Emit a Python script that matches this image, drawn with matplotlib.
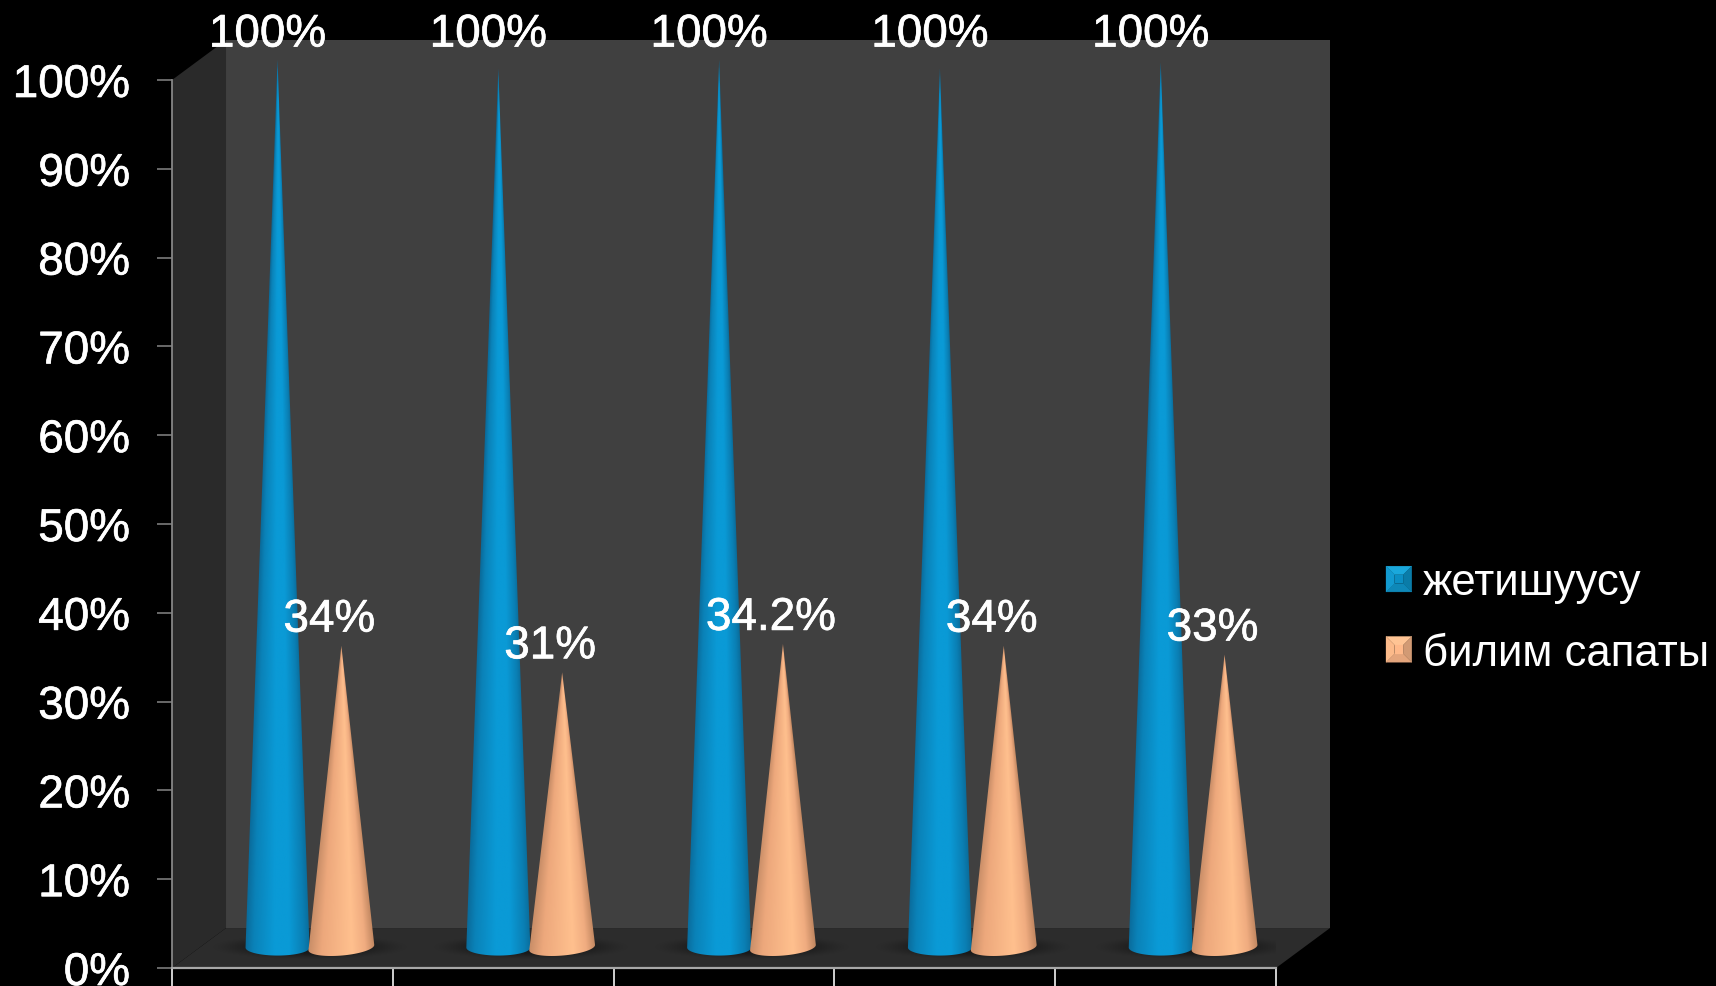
import numpy as np
import matplotlib
matplotlib.use("Agg")
import matplotlib.pyplot as plt
import matplotlib.patheffects as pe
from matplotlib.legend_handler import HandlerBase
from matplotlib.patches import Patch, Polygon

plt.rcParams['font.family'] = ['Liberation Sans', 'DejaVu Sans']

#================
# Data
#================
series_names = ['жетишуусу', 'билим сапаты']
blue_values = [100, 99, 100, 99, 99.7]
orange_values = [34, 31, 34.2, 34, 33]
blue_labels = ['100%', '100%', '100%', '100%', '100%']
orange_labels = ['34%', '31%', '34.2%', '34%', '33%']
y_ticks = [0, 10, 20, 30, 40, 50, 60, 70, 80, 90, 100]
y_tick_labels = ['0%', '10%', '20%', '30%', '40%', '50%', '60%', '70%', '80%', '90%', '100%']

#================
# Styles
#================
W, H = 1716, 987
FONT = 33
PT = 0.72  # px to pt at dpi 100
DX, DY = 0.2446, 4.5  # depth of the box, data units
BASE_Y = 2.3  # centre of cone bases above the front edge
ELL_B = 0.9
BOLD = [pe.withStroke(linewidth=0.5, foreground='white')]
BLUE_STOPS = ([-1, -0.75, -0.1, 0.35, 0.8, 1],
              ['#0a6c9c', '#0a82b8', '#0a9ad6', '#0a9ad6', '#0a7fb4', '#0a6c9a'])
ORANGE_STOPS = ([-1, -0.6, 0.3, 0.7, 1],
                ['#c98e68', '#eda87c', '#ffc08e', '#f0ac80', '#c08660'])


def rgb_stops(stops):
    pos, cols = stops
    return pos, np.array([matplotlib.colors.to_rgb(c) for c in cols])


def draw_cone(ax, xc, height, half_w, stops, tilt):
    # horizontal shading that narrows with the cone
    pos, cols = rgb_stops(stops)
    xs = np.linspace(xc - half_w * 1.02, xc + half_w * 1.02, 140)
    ys = np.linspace(BASE_Y - 2 * ELL_B, BASE_Y + height, 1000)
    gx, gy = np.meshgrid(xs, ys)
    frac = np.clip(1 - (gy - BASE_Y) / height, 0.002, None)
    u = np.clip((gx - xc) / (half_w * frac), -1, 1)
    img = np.dstack([np.interp(u, pos, cols[:, i]) for i in range(3)])
    t = np.linspace(np.pi, 2 * np.pi, 60)
    ex = xc + half_w * np.cos(t)
    ey = BASE_Y + ELL_B * np.sin(t) + tilt * np.cos(t)
    pts = list(zip(ex, ey)) + [(xc, BASE_Y + height)]
    clip = Polygon(pts, closed=True, transform=ax.transData, fc='none', ec='none')
    im = ax.imshow(img, extent=(xs[0], xs[-1], ys[0], ys[-1]), origin='lower',
                   aspect='auto', zorder=4, interpolation='bilinear')
    im.set_clip_path(clip)
    im.set_clip_box(ax.figure.bbox)


def draw_shadow(ax, i):
    xs = np.linspace(i + 0.15, i + 1.1, 160)
    ys = np.linspace(0.4, 4.2, 60)
    gx, gy = np.meshgrid(xs, ys)
    r = ((gx - (i + 0.625)) / 0.4) ** 2 + ((gy - 2.3) / 1.25) ** 2
    img = np.zeros(gx.shape + (4,))
    img[..., :3] = 0.05
    img[..., 3] = 0.6 * np.clip(1.25 - r, 0, 1) ** 1.5
    ax.imshow(img, extent=(xs[0], xs[-1], ys[0], ys[-1]), origin='lower',
              aspect='auto', zorder=3, interpolation='bilinear')


class BevelHandler(HandlerBase):
    # square swatch with a pyramid look
    def create_artists(self, legend, orig, xd, yd, width, height, fontsize, trans):
        light, top, right, bottom, left = orig.bevel
        s = width
        d = s / 3
        x0, y0 = -xd, -yd + (height - s) / 2
        x1, y1 = x0 + s, y0 + s
        a0, b0, a1, b1 = x0 + d, y0 + d, x1 - d, y1 - d
        faces = [([(x0, y1), (x1, y1), (a1, b1), (a0, b1)], top),
                 ([(x1, y1), (x1, y0), (a1, b0), (a1, b1)], right),
                 ([(x0, y0), (x1, y0), (a1, b0), (a0, b0)], bottom),
                 ([(x0, y0), (x0, y1), (a0, b1), (a0, b0)], left),
                 ([(a0, b0), (a1, b0), (a1, b1), (a0, b1)], light)]
        return [Polygon(p, closed=True, fc=c, ec=c, lw=0.2, transform=trans) for p, c in faces]


#================
# Plot setup
#================
fig = plt.figure(figsize=(W / 100, H / 100), dpi=100, facecolor='black')
ax = fig.add_axes([172 / W, (H - 969) / H, (1276 - 172) / W, (969 - 81) / H])
ax.patch.set_visible(False)

# box walls
ax.add_patch(Polygon([(DX, DY), (5 + DX, DY), (5 + DX, 100 + DY), (DX, 100 + DY)],
                     fc='#404040', ec='none', zorder=1, clip_on=False))
ax.add_patch(Polygon([(0, 0), (DX, DY), (DX, 100 + DY), (0, 100)],
                     fc='#2a2a2a', ec='none', zorder=1, clip_on=False))
ax.add_patch(Polygon([(0, 0), (5, 0), (5 + DX, DY), (DX, DY)],
                     fc='#2c2c2c', ec='none', zorder=2, clip_on=False))

# cones and labels
for i in range(5):
    draw_shadow(ax, i)
    xb = i + 0.478
    xo = i + 0.767
    draw_cone(ax, xb, blue_values[i], 0.145, BLUE_STOPS, 0.0)
    draw_cone(ax, xo, orange_values[i], 0.149, ORANGE_STOPS, 0.3)
    ax.annotate(blue_labels[i], (xb, BASE_Y + 100), xytext=(-10 * PT, 25 * PT),
                textcoords='offset points', ha='center', va='center', color='white',
                fontsize=FONT, zorder=6, annotation_clip=False, path_effects=BOLD)
    ax.annotate(orange_labels[i], (xo, BASE_Y + orange_values[i]), xytext=(-12 * PT, 26 * PT),
                textcoords='offset points', ha='center', va='center', color='white',
                fontsize=FONT, zorder=6, annotation_clip=False, path_effects=BOLD)

# axes
ax.set_xlim(0, 5)
ax.set_ylim(0, 100)
ax.set_xticks(range(6))
ax.set_xticklabels([])
ax.set_yticks(y_ticks)
ax.set_yticklabels(y_tick_labels, fontsize=FONT, color='white', path_effects=BOLD)
ax.tick_params(axis='y', length=15 * PT, width=1.1, color='#868686', pad=27 * PT)
ax.tick_params(axis='x', length=26 * PT, width=1.4, color='#d0d0d0')
ax.spines['top'].set_visible(False)
ax.spines['right'].set_visible(False)
ax.spines['left'].set_color('#868686')
ax.spines['left'].set_linewidth(1.3)
ax.spines['bottom'].set_color('#a8a8a8')
ax.spines['bottom'].set_linewidth(1.6)
for s in ax.spines.values():
    s.set_zorder(5)

# legend
h1 = Patch(label=series_names[0])
h1.bevel = ('#0b8fc4', '#1aa8dc', '#0a7ca8', '#0e88b8', '#129ad0')
h2 = Patch(label=series_names[1])
h2.bevel = ('#ffb98a', '#ffc494', '#d29a74', '#e4a57c', '#fcba8a')
leg = ax.legend(handles=[h1, h2], handler_map={Patch: BevelHandler()}, frameon=False,
                loc='center left', bbox_to_anchor=(1386 / W, (H - 619) / H),
                bbox_transform=fig.transFigure, fontsize=31.5, labelcolor='white',
                borderpad=0, borderaxespad=0, handlelength=0.59, handletextpad=0.25,
                labelspacing=0.67)

fig.savefig('out.png', dpi=100, facecolor='black')
